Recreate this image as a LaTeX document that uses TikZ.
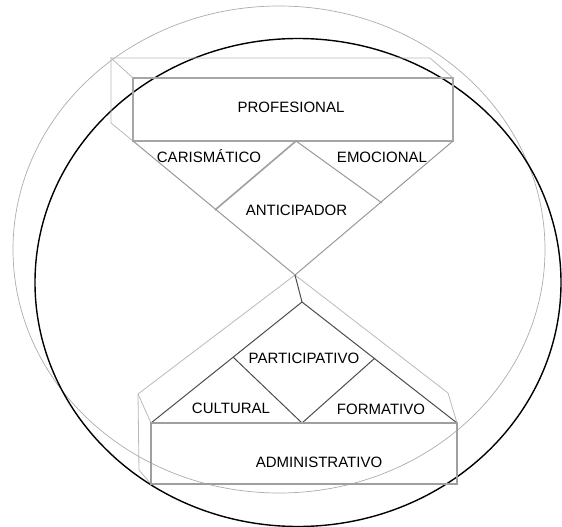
\documentclass[tikz,border=0pt]{standalone}
\usepackage{fontspec}
\setmainfont{Liberation Sans}
\begin{document}
\begin{tikzpicture}[x=1pt,y=-1pt,
  ring/.style={draw=gray!65,line width=0.7pt},
  orbit/.style={draw=black,line width=1.4pt},
  backedge/.style={draw=gray!55,line width=0.8pt},
  frontedge/.style={draw=gray!70,line width=1.5pt},
  upperedge/.style={draw=gray!80,line width=1pt},
  loweredge/.style={draw=black!70,line width=1pt},
  label/.style={font=\fontsize{15}{18}\selectfont,anchor=base,inner sep=0pt,text=black}]
\useasboundingbox (0,0) rectangle (562,527);

% outer rings
\draw[ring] (279,249.5) ellipse [x radius=266, y radius=243.5];
\draw[orbit] (298,282.5) ellipse [x radius=263, y radius=244];

% corner points of the upper block
\coordinate (b1) at (111,58);
\coordinate (b2) at (430,58);
\coordinate (b3) at (111,123);
\coordinate (f1) at (133,78);
\coordinate (f2) at (453,78);
\coordinate (f3) at (453,141);
\coordinate (f4) at (133,141);
% upper wedge and its diamond
\coordinate (ut) at (296,141);
\coordinate (x)  at (295,275);
\coordinate (udl) at (215,210);
\coordinate (udr) at (382,203);
% lower wedge, its diamond and the lower block
\coordinate (lp) at (302,302);
\coordinate (gl) at (138,394);
\coordinate (gr) at (448,393);
\coordinate (gb) at (139,470);
\coordinate (g1) at (151,423);
\coordinate (g2) at (457,423);
\coordinate (g3) at (457,484);
\coordinate (g4) at (151,484);
\coordinate (ldl) at (233,357);
\coordinate (ldb) at (302,423);
\coordinate (ldr) at (375,358);

% upper block: top and side faces, then the front face
\draw[backedge] (f1) -- (b1) -- (b2) -- (f2);
\draw[backedge] (b1) -- (b3) -- (f4);
\draw[frontedge] (f1) rectangle (f3);

% upper wedge
\draw[upperedge] (f4) -- (x) -- (f3);
\draw[draw=gray!75,line width=1.6pt] (ut) -- (udl);
\draw[upperedge] (ut) -- (udr);

% light guide lines from the crossing down to the lower block
\draw[backedge] (x) -- (gl) -- (g1);
\draw[backedge] (gl) -- (gb) -- (g4);
\draw[backedge] (x) -- (gr) -- (g2);

% lower wedge and its diamond
\draw[loweredge] (x) -- (lp);
\draw[loweredge] (g1) -- (lp) -- (g2);
\draw[loweredge] (ldl) -- (ldb) -- (ldr);
\draw[draw=gray!75,line width=1.2pt] (g1) rectangle (g3);

% labels
\node[label] (profesional) at (291,112.5) {PROFESIONAL};
\node[label] (carismatico) at (209,162.5) {CARISMÁTICO};
\node[label] (emocional) at (382,162.5) {EMOCIONAL};
\node[label] (anticipador) at (296.5,215.5) {ANTICIPADOR};
\node[label] (participativo) at (304,363.5) {PARTICIPATIVO};
\node[label] (cultural) at (231,413.5) {CULTURAL};
\node[label] (formativo) at (381,414.5) {FORMATIVO};
\node[label] (administrativo) at (319,467.5) {ADMINISTRATIVO};
\end{tikzpicture}
\end{document}
